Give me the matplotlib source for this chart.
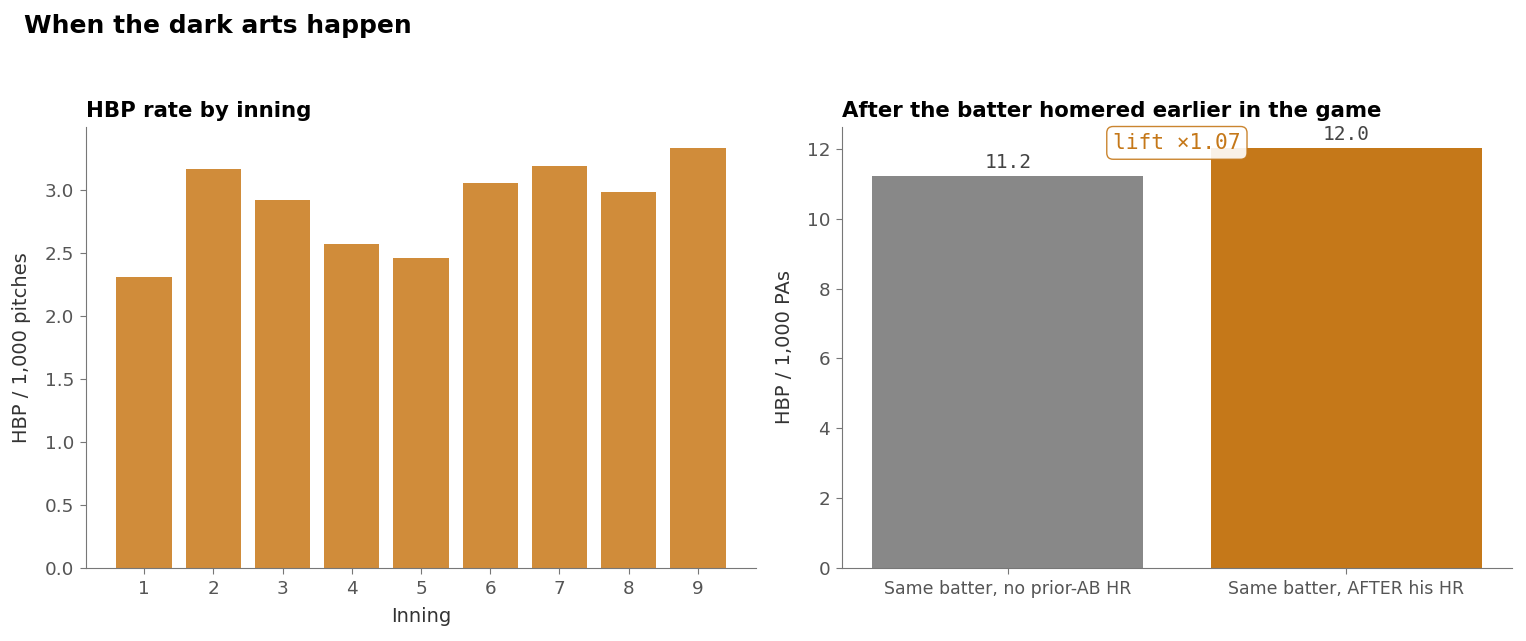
import numpy as np
import matplotlib
matplotlib.use("Agg")
import matplotlib.pyplot as plt

# data
innings = [1, 2, 3, 4, 5, 6, 7, 8, 9]
hbp_per_1000_pitches = [2.31, 3.16, 2.92, 2.57, 2.46, 3.05, 3.19, 2.98, 3.33]

groups = ["Same batter, no prior-AB HR", "Same batter, AFTER his HR"]
hbp_per_1000_pa = [11.22, 12.03]

spine_col = "#777777"
tick_col = "#555555"
label_col = "#333333"

fig, (ax1, ax2) = plt.subplots(1, 2, figsize=(15.26, 6.41), dpi=100)
fig.subplots_adjust(left=0.0563, right=0.9908, top=0.802, bottom=0.114, wspace=0.128)

fig.text(0.0157, 0.96, "When the dark arts happen", fontsize=18, fontweight="bold",
         ha="left", va="center")

for ax in (ax1, ax2):
    ax.spines["top"].set_visible(False)
    ax.spines["right"].set_visible(False)
    for s in ("left", "bottom"):
        ax.spines[s].set_color(spine_col)
    ax.tick_params(colors=spine_col, labelcolor=tick_col, labelsize=13.2,
                   length=4, pad=4.5)

# left: rate by inning
ax1.bar(innings, hbp_per_1000_pitches, width=0.8, color="#D08C3A")
ax1.set_xticks(innings)
ax1.set_xlabel("Inning", fontsize=14, color=label_col, labelpad=7)
ax1.set_ylabel("HBP / 1,000 pitches", fontsize=14, color=label_col, labelpad=10)
ax1.set_title("HBP rate by inning", loc="left", fontsize=15.3, fontweight="bold", pad=7)

# right: after the batter homered
x = np.arange(len(groups))
ax2.bar(x, hbp_per_1000_pa, width=0.8, color=["#888888", "#C57819"])
ax2.set_xticks(x)
ax2.set_xticklabels(groups)
ax2.tick_params(axis="x", labelsize=12.5)
ax2.set_ylabel("HBP / 1,000 PAs", fontsize=14, color=label_col, labelpad=9)
ax2.set_title("After the batter homered earlier in the game", loc="left",
              fontsize=15.3, fontweight="bold", pad=7)
for xi, v in zip(x, hbp_per_1000_pa):
    ax2.annotate(f"{v:.1f}", (xi, v), xytext=(0, 3), textcoords="offset points",
                 ha="center", va="bottom", fontsize=14, family="monospace",
                 color="#444444")
lift = hbp_per_1000_pa[1] / hbp_per_1000_pa[0]
ax2.text(0.5, max(hbp_per_1000_pa) * 1.012, f"lift \u00d7{lift:.2f}", ha="center",
         va="center", fontsize=15.3, family="monospace", color="#C57819",
         bbox=dict(boxstyle="round,pad=0.3", fc="white", ec="#C57819", alpha=0.9))

fig.savefig("out.png", dpi=100)
